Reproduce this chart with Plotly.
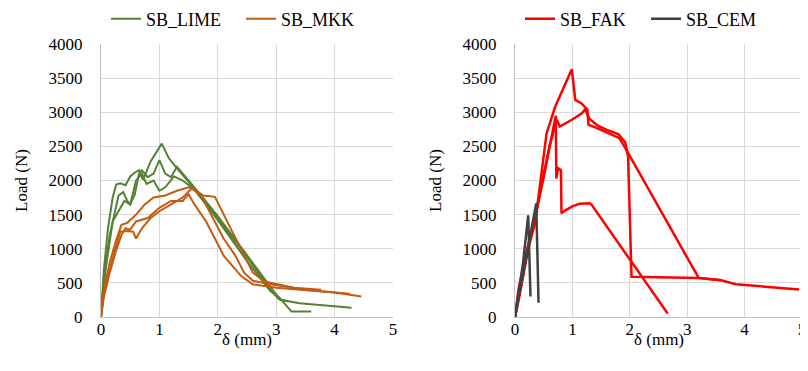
import plotly.graph_objects as go

# ---------------- data (deflection mm, load N) ----------------
lime1_x = [0, 0.05, 0.12, 0.2, 0.26, 0.33, 0.42, 0.5, 0.57, 0.65, 0.72, 0.85, 1.04, 1.16, 1.28, 1.5, 2.0, 2.5, 2.9, 3.09, 3.4, 3.8, 4.03, 4.29]
lime1_y = [0, 700, 1300, 1750, 1940, 1960, 1930, 2060, 2110, 2150, 2010, 2280, 2540, 2330, 2200, 1980, 1420, 820, 380, 250, 200, 170, 150, 136]
lime2_x = [0, 0.05, 0.15, 0.23, 0.3, 0.38, 0.45, 0.5, 0.58, 0.65, 0.7, 0.8, 0.9, 1.0, 1.1, 1.2, 1.3, 1.4, 1.6, 2.0, 2.5, 2.8, 3.0, 3.09, 3.26, 3.6]
lime2_y = [0, 600, 1200, 1500, 1780, 1830, 1700, 1650, 1800, 2100, 2150, 2050, 2100, 2300, 2100, 2050, 2200, 2100, 1900, 1480, 900, 560, 330, 250, 80, 80]
lime3_x = [0, 0.08, 0.2, 0.3, 0.4, 0.5, 0.6, 0.7, 0.78, 0.9, 1.0, 1.1, 1.25, 1.4, 1.55, 1.7, 2.0, 2.5, 2.9, 3.05, 3.2]
lime3_y = [0, 700, 1400, 1550, 1700, 1650, 2000, 2100, 1950, 2000, 1850, 1900, 2060, 2000, 1900, 1800, 1450, 880, 400, 260, 230]

mkk1_x = [0, 0.05, 0.15, 0.25, 0.35, 0.45, 0.6, 0.75, 0.9, 1.1, 1.3, 1.5, 1.6, 1.75, 1.95, 2.3, 2.6, 2.8, 3.0, 3.3, 3.77]
mkk1_y = [0, 400, 800, 1100, 1350, 1380, 1500, 1650, 1750, 1780, 1850, 1900, 1870, 1780, 1760, 1150, 650, 520, 480, 430, 400]
mkk2_x = [0, 0.05, 0.15, 0.25, 0.33, 0.45, 0.55, 0.6, 0.7, 0.85, 1.0, 1.2, 1.4, 1.55, 1.7, 2.1, 2.3, 2.45, 2.6, 2.9, 3.5, 4.0, 4.46]
mkk2_y = [0, 350, 700, 1000, 1250, 1260, 1250, 1150, 1300, 1450, 1550, 1650, 1750, 1880, 1800, 1150, 900, 650, 530, 480, 400, 360, 300]
mkk3_x = [0, 0.05, 0.15, 0.25, 0.35, 0.42, 0.5, 0.6, 0.8, 1.0, 1.2, 1.4, 1.5, 1.6, 1.8, 2.1, 2.4, 2.6, 3.0, 3.5, 4.0, 4.26]
mkk3_y = [0, 300, 650, 950, 1200, 1300, 1280, 1400, 1450, 1600, 1700, 1700, 1800, 1650, 1400, 900, 600, 480, 430, 400, 360, 340]

fak1_x = [0, 0.04, 0.13, 0.2, 0.35, 0.55, 0.7, 0.84, 0.99, 1.05, 1.16, 1.26, 1.28, 1.45, 1.6, 1.82, 1.94, 3.2, 3.6]
fak1_y = [0, 150, 540, 930, 1370, 2690, 3080, 3350, 3630, 3180, 3130, 3040, 2820, 2760, 2700, 2620, 2450, 573, 540]
fak2_x = [0, 0.05, 0.15, 0.3, 0.45, 0.6, 0.73, 0.78, 0.99, 1.16, 1.22, 1.3, 1.45, 1.6, 1.8, 1.92, 1.97, 2.03, 3.2, 3.59, 3.85, 4.26, 4.95]
fak2_y = [0, 250, 650, 1250, 1900, 2500, 2890, 2790, 2890, 2980, 3040, 2900, 2800, 2740, 2680, 2560, 2350, 590, 570, 539, 480, 451, 402]
fak3_x = [0, 0.06, 0.2, 0.35, 0.5, 0.62, 0.71, 0.72, 0.75, 0.8, 0.81, 0.87, 1.0, 1.13, 1.3, 1.33, 2.66]
fak3_y = [0, 400, 950, 1450, 2050, 2550, 2950, 2030, 2180, 2150, 1520, 1560, 1620, 1660, 1665, 1650, 50]

cem1_x = [0, 0.06, 0.14, 0.23, 0.27]
cem1_y = [0, 350, 790, 1490, 300]
cem2_x = [0, 0.12, 0.23, 0.37, 0.41]
cem2_y = [0, 540, 1030, 1665, 210]

x_ticks = [0, 1, 2, 3, 4, 5]
y_ticks = [0, 500, 1000, 1500, 2000, 2500, 3000, 3500, 4000]
x_title = "δ (mm)"
y_title = "Load (N)"

GREEN = "#548235"
ORANGE = "#C55A11"
RED = "#FF0000"
DARK = "#404040"

fig = go.Figure()

def add(xs, ys, name, color, width, xa, ya, legend, show):
    fig.add_trace(go.Scatter(x=xs, y=ys, mode="lines", name=name,
                             line=dict(color=color, width=width),
                             xaxis=xa, yaxis=ya, legend=legend,
                             legendgroup=name, showlegend=show))

add(lime1_x, lime1_y, "SB_LIME", GREEN, 2, "x", "y", "legend", True)
add(lime2_x, lime2_y, "SB_LIME", GREEN, 2, "x", "y", "legend", False)
add(lime3_x, lime3_y, "SB_LIME", GREEN, 2, "x", "y", "legend", False)
add(mkk1_x, mkk1_y, "SB_MKK", ORANGE, 2, "x", "y", "legend", True)
add(mkk2_x, mkk2_y, "SB_MKK", ORANGE, 2, "x", "y", "legend", False)
add(mkk3_x, mkk3_y, "SB_MKK", ORANGE, 2, "x", "y", "legend", False)

add(fak1_x, fak1_y, "SB_FAK", RED, 2.5, "x2", "y2", "legend2", True)
add(fak2_x, fak2_y, "SB_FAK", RED, 2.5, "x2", "y2", "legend2", False)
add(fak3_x, fak3_y, "SB_FAK", RED, 2.5, "x2", "y2", "legend2", False)
add(cem1_x, cem1_y, "SB_CEM", DARK, 2.5, "x2", "y2", "legend2", True)
add(cem2_x, cem2_y, "SB_CEM", DARK, 2.5, "x2", "y2", "legend2", False)

FONT = "Liberation Serif, Times New Roman, serif"
FS = 17
LFS = 18
OFF = 8  # browser body margin
W, H = 808 - OFF, 371 - OFF
ML, MR, MT, MB = 0, 6, 44 - OFF, 54
PW, PH = W - ML - MR, H - MT - MB

def xaxis(domain, anchor):
    return dict(domain=domain, anchor=anchor, range=[0, 5], tickvals=x_ticks,
                showgrid=True, gridcolor="#d9d9d9", gridwidth=1,
                showline=True, linecolor="#bfbfbf", linewidth=1, zeroline=False,
                ticks="", ticklabelstandoff=-3, automargin=False,
                tickfont=dict(family=FONT, size=FS, color="#000"))

def yaxis(domain, anchor):
    return dict(domain=domain, anchor=anchor, range=[0, 4000], tickvals=y_ticks,
                showgrid=True, gridcolor="#d9d9d9", gridwidth=1,
                showline=True, linecolor="#bfbfbf", linewidth=1, zeroline=False,
                ticks="", ticklabelstandoff=14, automargin=False,
                tickfont=dict(family=FONT, size=FS, color="#000"),
                title=dict(text=y_title, font=dict(family=FONT, size=FS, color="#000"), standoff=16))

dom1 = [(101 - OFF) / PW, (393 - OFF) / PW]
dom2 = [(515 - OFF) / PW, 1.0]
leg_mid = 1 + (MT - (19 - OFF)) / PH

fig.update_layout(
    width=W, height=H,
    margin=dict(l=ML, r=MR, t=MT, b=MB, autoexpand=False),
    paper_bgcolor="white", plot_bgcolor="white",
    font=dict(family=FONT, size=FS, color="#000"),
    xaxis=xaxis(dom1, "y"),
    yaxis=yaxis([0, 1], "x"),
    xaxis2=xaxis(dom2, "y2"),
    yaxis2=yaxis([0, 1], "x2"),
    legend=dict(orientation="h", x=(241 - OFF) / PW, xanchor="center", y=leg_mid, yanchor="middle",
                font=dict(family=FONT, size=LFS, color="#000"), bgcolor="rgba(0,0,0,0)",
                itemwidth=30, tracegroupgap=0, entrywidth=90),
    legend2=dict(orientation="h", x=(646 - OFF) / PW, xanchor="center", y=leg_mid, yanchor="middle",
                 font=dict(family=FONT, size=LFS, color="#000"), bgcolor="rgba(0,0,0,0)",
                 itemwidth=30, tracegroupgap=0, entrywidth=81),
    showlegend=True,
    annotations=[
        dict(text=x_title, xref="paper", yref="paper", x=(dom1[0] + dom1[1]) / 2, y=-(339 - 317) / PH,
             xanchor="center", yanchor="middle", showarrow=False,
             font=dict(family=FONT, size=FS, color="#000")),
        dict(text=x_title, xref="paper", yref="paper", x=(dom2[0] + dom2[1]) / 2, y=-(339 - 317) / PH,
             xanchor="center", yanchor="middle", showarrow=False,
             font=dict(family=FONT, size=FS, color="#000")),
    ],
)

fig.write_html("out.html")
